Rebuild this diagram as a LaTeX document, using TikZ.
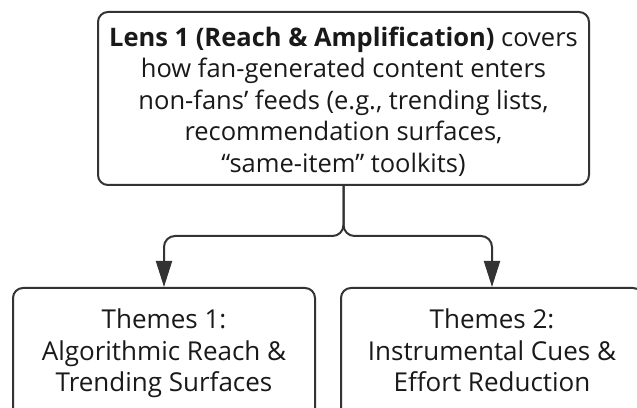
\documentclass[tikz,border=0pt]{standalone}
\usepackage{fontspec}
\setmainfont{Open Sans}
\usetikzlibrary{arrows.meta}
\usetikzlibrary{positioning}

\tikzset{
	box/.style={draw=black!80, line width=2pt, rounded corners=10pt, fill=white, inner sep=0pt},
	boxtext/.style={align=center, text=black!90, inner sep=0pt},
	link/.style={draw=black!80, line width=2pt, rounded corners=11pt,
		-{Triangle[length=26pt,width=16pt]}},
}

\begin{document}
\begin{tikzpicture}[x=1pt,y=1pt]
	\useasboundingbox (0,0) rectangle (637,407);
	%Lens box at the top
	\node [box, minimum width=491pt, minimum height=173pt] (lens) at (343.5,308.5) {};
	\node [boxtext, font=\fontsize{25.5}{31.5}\selectfont] (lenstext) at (343.5,303)
	{\textbf{Lens 1 (Reach \& Amplification)} covers\\
	how fan-generated content enters\\
	non-fans’ feeds (e.g., trending lists,\\
	recommendation surfaces,\\
	“same-item” toolkits)\strut};
	%Themes boxes at the bottom
	\node [box, anchor=north, minimum width=302pt, minimum height=136pt] (theme1) at (164,120) {};
	\node [boxtext, font=\fontsize{26}{31.5}\selectfont] (theme1text) at (164,52)
	{Themes 1:\\ Algorithmic Reach \&\\ Trending Surfaces\strut};
	\node [box, anchor=north, minimum width=302pt, minimum height=136pt] (theme2) at (492,120) {};
	\node [boxtext, font=\fontsize{26}{31.5}\selectfont] (theme2text) at (492,52)
	{Themes 2:\\ Instrumental Cues \&\\ Effort Reduction\strut};
	%Split of the connector
	\coordinate (fork) at (343.5,171);
	\draw [link] (lens.south) -- (fork) -| (theme1.north);
	\draw [link] (lens.south) -- (fork) -| (theme2.north);
\end{tikzpicture}
\end{document}
